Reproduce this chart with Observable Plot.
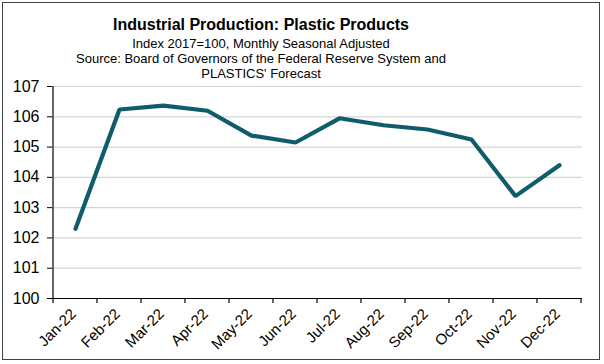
<!DOCTYPE html>
<html>
<head>
<meta charset="utf-8">
<script src="https://cdn.jsdelivr.net/npm/d3@7"></script>
<script src="https://cdn.jsdelivr.net/npm/@observablehq/plot@0.6"></script>
<style>
  html, body { margin: 0; padding: 0; background: #fff; }
  #wrap { position: relative; width: 604px; height: 364px; font-family: Arial, "Liberation Sans", sans-serif; }
  #frame { position: absolute; left: 2px; top: 2px; width: 598px; height: 358px; border: 1.5px solid #444; box-sizing: border-box; }
  .t { position: absolute; left: 0; width: 522px; text-align: center; color: #000; white-space: nowrap; }
  #title { top: 16px; font-size: 16px; font-weight: bold; }
  .sub { font-size: 13px; }
  #chart { position: absolute; left: 0; top: 0; }
</style>
</head>
<body>
<div id="wrap">
  <div id="chart"></div>
  <div id="frame"></div>
  <div class="t" id="title">Industrial Production: Plastic Products</div>
  <div class="t sub" style="top:36px">Index 2017=100, Monthly Seasonal Adjusted</div>
  <div class="t sub" style="top:51px">Source: Board of Governors of the Federal Reserve System and</div>
  <div class="t sub" style="top:66px">PLASTICS' Forecast</div>
</div>
<script>
const months = ["Jan-22","Feb-22","Mar-22","Apr-22","May-22","Jun-22","Jul-22","Aug-22","Sep-22","Oct-22","Nov-22","Dec-22"];
const values = [102.3, 106.24, 106.37, 106.2, 105.38, 105.15, 105.95, 105.72, 105.58, 105.25, 103.38, 104.4];
const yTicks = [100, 101, 102, 103, 104, 105, 106, 107];

const data = months.map((m, i) => ({month: m, value: values[i]}));

// left axis line and tick marks at category boundaries, drawn from the band scale
function boundaryAxis(index, scales, channels, dims) {
  const x = scales.x;
  const bw = x.bandwidth();
  const xs = months.map(m => x(m)).concat([x(months[months.length - 1]) + bw]);
  const y0 = dims.height - dims.marginBottom;
  const g = d3.create("svg:g");
  g.append("line")
    .attr("x1", xs[0]).attr("x2", xs[0])
    .attr("y1", dims.marginTop).attr("y2", y0)
    .attr("stroke", "#000").attr("stroke-width", 1.2);
  g.selectAll("line.t").data(xs).join("line").attr("class", "t")
    .attr("x1", d => d).attr("x2", d => d)
    .attr("y1", y0).attr("y2", y0 + 5)
    .attr("stroke", "#000").attr("stroke-width", 1.2);
  return g.node();
}

const chart = Plot.plot({
  width: 604,
  height: 364,
  marginLeft: 52,
  marginRight: 22,
  marginTop: 86,
  marginBottom: 66,
  style: {fontFamily: "Arial, 'Liberation Sans', sans-serif", background: "transparent", color: "#000"},
  x: {type: "band", domain: months, padding: 0},
  y: {domain: [100, 107]},
  marks: [
    Plot.gridY(yTicks, {stroke: "#d4d4d4", strokeOpacity: 1, strokeWidth: 1.2}),
    Plot.ruleY([100], {stroke: "#000", strokeWidth: 1.2}),
    Plot.axisY(yTicks, {tickSize: 5, tickPadding: 8, fontSize: 16, label: null, stroke: "#000"}),
    Plot.axisX({tickSize: 0, tickRotate: -45, tickPadding: 13, fontSize: 15, label: null, dx: -2}),
    boundaryAxis,
    Plot.line(data, {x: "month", y: "value", stroke: "#0f5c6b", strokeWidth: 4.2, strokeLinejoin: "miter", strokeLinecap: "round"})
  ]
});
document.getElementById("chart").appendChild(chart);
</script>
</body>
</html>
